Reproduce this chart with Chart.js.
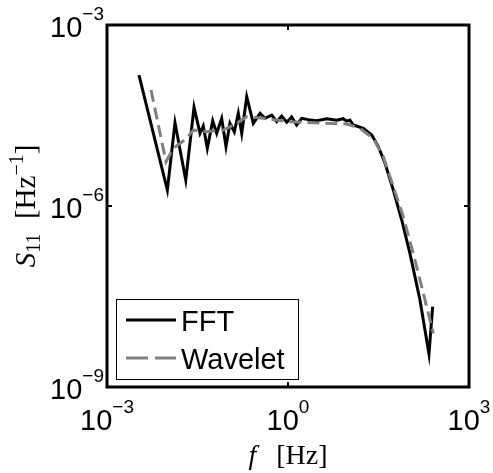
<!DOCTYPE html>
<html>
<head>
<meta charset="utf-8">
<script src="https://cdn.jsdelivr.net/npm/chart.js@4.4.1/dist/chart.umd.min.js"></script>
<style>
  body { margin: 0; background: #fff; }
  canvas { display: block; }
</style>
</head>
<body>
<canvas id="chart" width="493" height="473"></canvas>
<script>
// FFT spectrum (frequency in Hz, power in Hz^-1)
var fftFreq = [0.00339, 0.0100, 0.0134, 0.0202, 0.0277, 0.0348, 0.0394, 0.0460, 0.0565, 0.0658,
  0.0796, 0.0938, 0.109, 0.129, 0.150, 0.171, 0.207, 0.266, 0.344, 0.416,
  0.537, 0.650, 0.787, 0.953, 1.15, 1.39, 1.69, 2.17, 2.99, 4.39,
  6.42, 8.2, 9.40, 10.6, 12.1, 17.7, 24.4, 31.4, 40.6, 55.7, 76.7, 105,
  154, 217, 250];
var fftPower = [1.48e-4, 1.84e-6, 2.40e-5, 2.70e-6, 4.32e-5, 1.60e-5, 2.12e-5, 9.04e-6, 2.59e-5, 1.60e-5,
  2.84e-5, 9.62e-6, 2.35e-5, 1.70e-5, 3.44e-5, 1.60e-5, 6.48e-5, 2.35e-5, 3.44e-5, 2.84e-5,
  3.20e-5, 2.50e-5, 3.10e-5, 2.45e-5, 3.00e-5, 2.20e-5, 2.84e-5, 2.70e-5, 2.60e-5, 2.80e-5,
  2.65e-5, 2.80e-5, 2.55e-5, 2.65e-5, 2.20e-5, 1.94e-5, 1.50e-5, 9.62e-6, 5.10e-6, 1.84e-6, 5.86e-7, 1.64e-7,
  2.77e-8, 3.52e-9, 2.14e-8];

// Wavelet spectrum
var waveletFreq = [0.00536, 0.00951, 0.0126, 0.0209, 0.0269, 0.0450, 0.0847, 0.141, 0.207, 0.390,
  1.08, 3.85, 9.40, 15.6, 25.9, 38.0, 55.7, 81.5, 119, 175, 256];
var waveletPower = [8.37e-5, 5.42e-6, 9.04e-6, 1.32e-5, 1.82e-5, 1.70e-5, 1.82e-5, 2.35e-5, 3.02e-5, 2.84e-5,
  2.49e-5, 2.35e-5, 2.29e-5, 1.94e-5, 1.32e-5, 6.56e-6, 2.09e-6, 6.64e-7, 1.64e-7, 3.57e-8, 7.76e-9];

var seriesNames = ['FFT', 'Wavelet'];
var xTickValues = [1e-3, 1e0, 1e3];
var xTickExponents = ['\u22123', '0', '3'];
var yTickValues = [1e-9, 1e-6, 1e-3];
var yTickExponents = ['\u22129', '\u22126', '\u22123'];

function toPoints(xs, ys) {
  return xs.map(function (x, i) { return { x: x, y: ys[i] }; });
}

var sansFont = '"Liberation Sans", Arial, sans-serif';
var serifFont = '"Liberation Serif", "Times New Roman", serif';

function drawPower(ctx, exp, x, y, align) {
  ctx.font = '29px ' + sansFont;
  var wBase = ctx.measureText('10').width;
  ctx.font = '19px ' + sansFont;
  var wExp = ctx.measureText(exp).width;
  var total = wBase + wExp;
  var start = align === 'center' ? x - total / 2 : x - total;
  ctx.textAlign = 'left';
  ctx.textBaseline = 'alphabetic';
  ctx.font = '29px ' + sansFont;
  ctx.fillText('10', start, y);
  ctx.font = '19px ' + sansFont;
  ctx.fillText(exp, start + wBase, y - 17);
}

var decorPlugin = {
  id: 'decor',
  afterDatasetsDraw: function (chart) {
    var ctx = chart.ctx;
    var a = chart.chartArea;
    var xs = chart.scales.x, ys = chart.scales.y;
    ctx.save();
    ctx.fillStyle = '#000';
    ctx.strokeStyle = '#000';

    // ticks, inward on all sides
    ctx.lineWidth = 2;
    xTickValues.forEach(function (v) {
      var px = xs.getPixelForValue(v);
      ctx.beginPath();
      ctx.moveTo(px, a.bottom); ctx.lineTo(px, a.bottom - 5);
      ctx.moveTo(px, a.top); ctx.lineTo(px, a.top + 5);
      ctx.stroke();
    });
    yTickValues.forEach(function (v) {
      var py = ys.getPixelForValue(v);
      ctx.beginPath();
      ctx.moveTo(a.left, py); ctx.lineTo(a.left + 5, py);
      ctx.moveTo(a.right, py); ctx.lineTo(a.right - 5, py);
      ctx.stroke();
    });

    // box
    ctx.lineWidth = 3;
    ctx.strokeRect(a.left, a.top, a.right - a.left, a.bottom - a.top);

    // tick labels
    xTickValues.forEach(function (v, i) {
      drawPower(ctx, xTickExponents[i], xs.getPixelForValue(v), a.bottom + 43, 'center');
    });
    yTickValues.forEach(function (v, i) {
      drawPower(ctx, yTickExponents[i], a.left - 3, ys.getPixelForValue(v) + 12, 'right');
    });

    // x axis title: f [Hz]
    ctx.textBaseline = 'alphabetic';
    ctx.textAlign = 'left';
    ctx.font = 'italic 28px ' + serifFont;
    var wf = ctx.measureText('f').width;
    ctx.font = '28px ' + serifFont;
    var wHz = ctx.measureText('[Hz]').width;
    var gap = 20;
    var cx = (a.left + a.right) / 2;
    var sx = cx - (wf + gap + wHz) / 2;
    ctx.font = 'italic 28px ' + serifFont;
    ctx.fillText('f', sx, 464);
    ctx.font = '28px ' + serifFont;
    ctx.fillText('[Hz]', sx + wf + gap, 464);

    // y axis title: S11 [Hz^-1]
    ctx.save();
    ctx.translate(35, (a.top + a.bottom) / 2);
    ctx.rotate(-Math.PI / 2);
    var parts = [
      { t: 'S', f: 'italic 29px ' + serifFont, dy: 0 },
      { t: '11', f: '20px ' + serifFont, dy: 5 },
      { t: '  [Hz', f: '29px ' + serifFont, dy: 0 },
      { t: '\u22121', f: '20px ' + serifFont, dy: -12 },
      { t: ']', f: '29px ' + serifFont, dy: 0 }
    ];
    var tw = 0;
    parts.forEach(function (p) { ctx.font = p.f; p.w = ctx.measureText(p.t).width; tw += p.w; });
    var px0 = -tw / 2;
    parts.forEach(function (p) {
      ctx.font = p.f;
      ctx.fillText(p.t, px0, p.dy);
      px0 += p.w;
    });
    ctx.restore();

    // legend
    var lx = a.left + 9, ly = a.bottom - 88, lw = 182, lh = 80;
    ctx.fillStyle = '#fff';
    ctx.fillRect(lx, ly, lw, lh);
    ctx.lineWidth = 1;
    ctx.strokeStyle = '#000';
    ctx.strokeRect(lx + 0.5, ly + 0.5, lw, lh);
    var rows = [
      { name: seriesNames[0], color: '#000', dash: [], y: ly + 21 },
      { name: seriesNames[1], color: '#808080', dash: [22, 7], y: ly + 59 }
    ];
    rows.forEach(function (r) {
      ctx.strokeStyle = r.color;
      ctx.lineWidth = 3;
      ctx.setLineDash(r.dash);
      ctx.beginPath();
      ctx.moveTo(lx + 10, r.y);
      ctx.lineTo(lx + 60, r.y);
      ctx.stroke();
      ctx.setLineDash([]);
      ctx.fillStyle = '#000';
      ctx.font = '29px ' + sansFont;
      ctx.fillText(r.name, lx + 65, r.y + 11);
    });
    ctx.restore();
  }
};

new Chart(document.getElementById('chart'), {
  type: 'line',
  data: {
    datasets: [{
      label: seriesNames[0],
      data: toPoints(fftFreq, fftPower),
      borderColor: '#000000',
      borderWidth: 3,
      pointRadius: 0,
      tension: 0,
      order: 1
    }, {
      label: seriesNames[1],
      data: toPoints(waveletFreq, waveletPower),
      borderColor: '#808080',
      borderWidth: 3,
      borderDash: [12, 6],
      pointRadius: 0,
      tension: 0,
      order: 0
    }]
  },
  options: {
    responsive: false,
    animation: false,
    layout: { padding: { left: 107, right: 24, top: 25, bottom: 86 } },
    plugins: { legend: { display: false }, tooltip: { enabled: false } },
    scales: {
      x: { type: 'logarithmic', min: 1e-3, max: 1e3, display: false },
      y: { type: 'logarithmic', min: 1e-9, max: 1e-3, display: false }
    }
  },
  plugins: [decorPlugin]
});
</script>
</body>
</html>
